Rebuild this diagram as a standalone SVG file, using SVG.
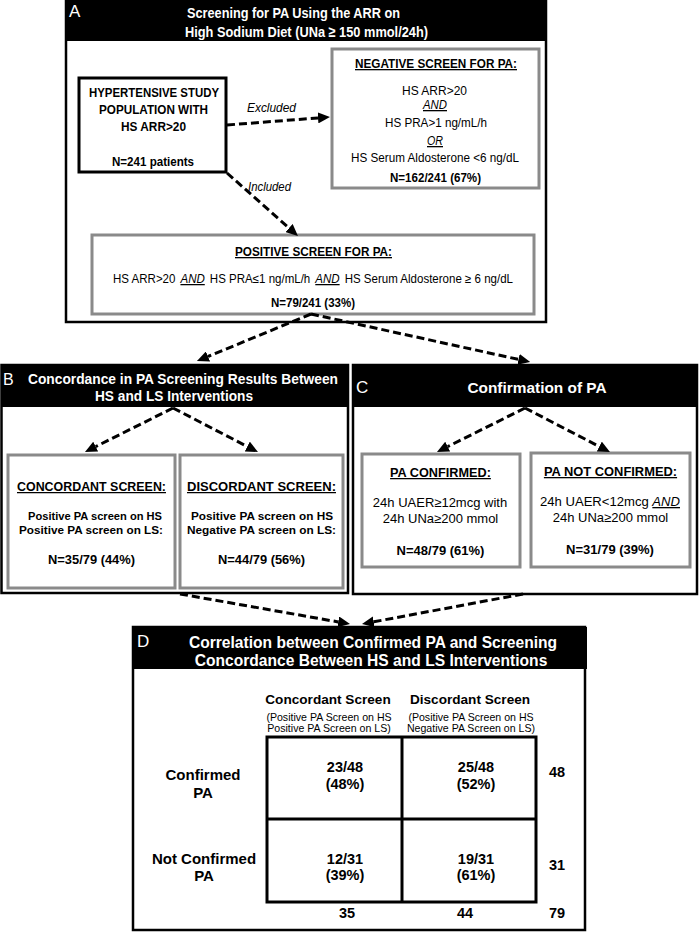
<svg xmlns="http://www.w3.org/2000/svg" width="700" height="932" viewBox="0 0 700 932">
<defs>
<style>
.panel{fill:#fff;stroke:#000;stroke-width:2.5}
.hdr{fill:#000}
.gbox{fill:#fff;stroke:#8a8a8a;stroke-width:3}
.kbox{fill:#fff;stroke:#000;stroke-width:3}
.grid{fill:none;stroke:#000;stroke-width:3}
text{font-family:"Liberation Sans",Arial,sans-serif;fill:#000}
.b{font-weight:bold}
.w{fill:#fff}
.c{text-anchor:middle}
.u{text-decoration:underline}
.i{font-style:italic}
.conn{fill:none;stroke:#000;stroke-width:3;stroke-dasharray:8 4}
</style>
<marker id="ah" markerUnits="userSpaceOnUse" markerWidth="12" markerHeight="11" refX="0" refY="5.5" orient="auto">
<path d="M0,0 L12,5.5 L0,11 z" fill="#000"/>
</marker>
</defs>
<rect width="700" height="932" fill="#fff"/>

<g id="panelA">
<rect class="panel" x="66" y="0" width="480" height="322"/>
<rect class="hdr" x="66" y="0" width="480" height="41"/>
<text class="w" x="69" y="17" font-size="17">A</text>
<text class="w b" x="187" y="18" font-size="15.5" textLength="213" lengthAdjust="spacingAndGlyphs">Screening for PA Using the ARR on</text>
<text class="w b" x="185" y="36.5" font-size="15.5" textLength="243" lengthAdjust="spacingAndGlyphs">High Sodium Diet (UNa ≥ 150 mmol/24h)</text>
</g>

<g id="population">
<rect class="kbox" x="79" y="78" width="147" height="94"/>
<text class="b c" x="154" y="97" font-size="13.5" textLength="130" lengthAdjust="spacingAndGlyphs">HYPERTENSIVE STUDY</text>
<text class="b c" x="153.5" y="114" font-size="13.5" textLength="109" lengthAdjust="spacingAndGlyphs">POPULATION WITH</text>
<text class="b c" x="153.5" y="131" font-size="13.5" textLength="65" lengthAdjust="spacingAndGlyphs">HS ARR&gt;20</text>
<text class="b c" x="153" y="166" font-size="13.5" textLength="82" lengthAdjust="spacingAndGlyphs">N=241 patients</text>
</g>

<g id="negative">
<rect class="gbox" x="332" y="49" width="207" height="139"/>
<text class="b c u" x="436" y="68" font-size="13" textLength="162" lengthAdjust="spacingAndGlyphs">NEGATIVE SCREEN FOR PA:</text>
<text class="c" x="434.5" y="95" font-size="13" textLength="65" lengthAdjust="spacingAndGlyphs">HS ARR&gt;20</text>
<text class="c i u" x="435" y="109" font-size="13" textLength="24" lengthAdjust="spacingAndGlyphs">AND</text>
<text class="c" x="436" y="127" font-size="13" textLength="102" lengthAdjust="spacingAndGlyphs">HS PRA&gt;1 ng/mL/h</text>
<text class="c i u" x="435" y="145" font-size="13" textLength="16" lengthAdjust="spacingAndGlyphs">OR</text>
<text class="c" x="435" y="162" font-size="13" textLength="168" lengthAdjust="spacingAndGlyphs">HS Serum Aldosterone &lt;6 ng/dL</text>
<text class="b c" x="435.5" y="182" font-size="13" textLength="91" lengthAdjust="spacingAndGlyphs">N=162/241 (67%)</text>
</g>

<g id="positive">
<rect class="gbox" x="92" y="235" width="442" height="79"/>
<text class="b c u" x="313.5" y="256" font-size="13" textLength="157" lengthAdjust="spacingAndGlyphs">POSITIVE SCREEN FOR PA:</text>
<text x="113" y="283" font-size="12.6" textLength="400" lengthAdjust="spacingAndGlyphs">HS ARR&gt;20 <tspan class="i u" dx="2">AND</tspan><tspan dx="2"> HS PRA≤1 ng/mL/h </tspan><tspan class="i u" dx="2">AND</tspan><tspan dx="2"> HS Serum Aldosterone ≥ 6 ng/dL</tspan></text>
<text class="b c" x="313" y="307" font-size="13" textLength="84" lengthAdjust="spacingAndGlyphs">N=79/241 (33%)</text>
</g>

<g id="panelB">
<rect class="panel" x="1.5" y="365" width="346.5" height="228"/>
<rect class="hdr" x="1.5" y="365" width="346.5" height="42"/>
<text class="w" x="3" y="384.5" font-size="16">B</text>
<text class="w b" x="28" y="384" font-size="14" textLength="310" lengthAdjust="spacingAndGlyphs">Concordance in PA Screening Results Between</text>
<text class="w b c" x="174" y="401" font-size="14" textLength="158" lengthAdjust="spacingAndGlyphs">HS and LS Interventions</text>
</g>

<g id="concordant">
<rect class="gbox" x="8" y="455" width="167" height="133"/>
<text class="b c u" x="91.5" y="491" font-size="12.5" textLength="149" lengthAdjust="spacingAndGlyphs">CONCORDANT SCREEN:</text>
<text class="b c" x="95" y="520" font-size="11.5" textLength="134" lengthAdjust="spacingAndGlyphs">Positive PA screen on HS</text>
<text class="b c" x="91" y="534" font-size="11.5" textLength="144" lengthAdjust="spacingAndGlyphs">Positive PA screen on LS:</text>
<text class="b c" x="91.5" y="564" font-size="13" textLength="87" lengthAdjust="spacingAndGlyphs">N=35/79 (44%)</text>
</g>

<g id="discordant">
<rect class="gbox" x="180" y="455" width="163" height="133"/>
<text class="b c u" x="261.5" y="491" font-size="12.5" textLength="149" lengthAdjust="spacingAndGlyphs">DISCORDANT SCREEN:</text>
<text class="b c" x="262" y="520" font-size="11.5" textLength="142" lengthAdjust="spacingAndGlyphs">Positive PA screen on HS</text>
<text class="b c" x="261.5" y="534" font-size="11.5" textLength="149" lengthAdjust="spacingAndGlyphs">Negative PA screen on LS:</text>
<text class="b c" x="261.5" y="564" font-size="13" textLength="87" lengthAdjust="spacingAndGlyphs">N=44/79 (56%)</text>
</g>

<g id="panelC">
<rect class="panel" x="353" y="365" width="344" height="229"/>
<rect class="hdr" x="353" y="365" width="344" height="42"/>
<text class="w" x="356" y="393" font-size="17">C</text>
<text class="w b c" x="537" y="393" font-size="15.4">Confirmation of PA</text>
</g>

<g id="confirmed">
<rect class="gbox" x="362" y="454" width="158" height="113"/>
<text class="b c u" x="440.5" y="477" font-size="12.7">PA CONFIRMED:</text>
<text class="c" x="440" y="507" font-size="13">24h UAER≥12mcg with</text>
<text class="c" x="440.5" y="523" font-size="13">24h UNa≥200 mmol</text>
<text class="b c" x="440.5" y="555" font-size="13">N=48/79 (61%)</text>
</g>

<g id="notconfirmed">
<rect class="gbox" x="531" y="453" width="159" height="114"/>
<text class="b c u" x="610.5" y="476" font-size="12.9">PA NOT CONFIRMED:</text>
<text x="540" y="506" font-size="13" textLength="140" lengthAdjust="spacingAndGlyphs">24h UAER&lt;12mcg <tspan class="i u">AND</tspan></text>
<text class="c" x="610.5" y="522" font-size="13">24h UNa≥200 mmol</text>
<text class="b c" x="610" y="554" font-size="13">N=31/79 (39%)</text>
</g>

<g id="panelD">
<rect class="panel" x="133" y="627" width="452" height="303"/>
<rect class="hdr" x="133" y="627" width="454" height="42"/>
<text class="w" x="137" y="647" font-size="17">D</text>
<text class="w b c" x="373" y="648" font-size="15.6">Correlation between Confirmed PA and Screening</text>
<text class="w b c" x="371" y="666" font-size="15.6">Concordance Between HS and LS Interventions</text>
</g>

<g id="tableD">
<text class="b c" x="328" y="704" font-size="13.6">Concordant Screen</text>
<text class="c" x="329" y="721" font-size="10.6">(Positive PA Screen on HS</text>
<text class="c" x="329" y="732" font-size="10.6">Positive PA Screen on LS)</text>
<text class="b c" x="470" y="704" font-size="13.6">Discordant Screen</text>
<text class="c" x="471" y="721" font-size="10.6">(Positive PA Screen on HS</text>
<text class="c" x="471" y="732" font-size="10.6">Negative PA Screen on LS)</text>
<rect class="grid" x="267" y="737" width="269" height="165"/>
<line class="grid" x1="402" y1="737" x2="402" y2="902"/>
<line class="grid" x1="267" y1="819" x2="536" y2="819"/>
<text class="b c" x="203" y="780" font-size="15">Confirmed</text>
<text class="b c" x="203" y="798" font-size="15">PA</text>
<text class="b c" x="204" y="864" font-size="15">Not Confirmed</text>
<text class="b c" x="204" y="881" font-size="15">PA</text>
<text class="b c" x="345" y="772" font-size="14.5">23/48</text>
<text class="b c" x="345" y="789" font-size="14.5">(48%)</text>
<text class="b c" x="476" y="772" font-size="14.5">25/48</text>
<text class="b c" x="476" y="789" font-size="14.5">(52%)</text>
<text class="b c" x="345" y="864" font-size="14.5">12/31</text>
<text class="b c" x="345" y="880" font-size="14.5">(39%)</text>
<text class="b c" x="476" y="864" font-size="14.5">19/31</text>
<text class="b c" x="476" y="880" font-size="14.5">(61%)</text>
<text class="b c" x="557" y="777" font-size="14.5">48</text>
<text class="b c" x="557" y="870" font-size="14.5">31</text>
<text class="b c" x="347" y="918" font-size="14.5">35</text>
<text class="b c" x="465" y="918" font-size="14.5">44</text>
<text class="b c" x="557" y="918" font-size="14.5">79</text>
</g>

<g id="connectors">
<line class="conn" x1="227" y1="125" x2="318" y2="117.9" marker-end="url(#ah)"/>
<text class="i" x="247" y="112" font-size="13" textLength="49" lengthAdjust="spacingAndGlyphs">Excluded</text>
<line class="conn" x1="227" y1="173" x2="289" y2="228" marker-end="url(#ah)"/>
<text class="i" x="248" y="191" font-size="13" textLength="43" lengthAdjust="spacingAndGlyphs">Included</text>
<line class="conn" x1="311" y1="314" x2="208" y2="356.5" marker-end="url(#ah)"/>
<line class="conn" x1="311" y1="314" x2="518.5" y2="359.4" marker-end="url(#ah)"/>
<line class="conn" x1="173" y1="408" x2="95.7" y2="446.6" marker-end="url(#ah)"/>
<line class="conn" x1="173" y1="408" x2="247.3" y2="446.5" marker-end="url(#ah)"/>
<line class="conn" x1="525" y1="408" x2="447.7" y2="446.6" marker-end="url(#ah)"/>
<line class="conn" x1="525" y1="408" x2="599.3" y2="446.5" marker-end="url(#ah)"/>
<line class="conn" x1="180" y1="594" x2="338.2" y2="621.9" marker-end="url(#ah)"/>
<line class="conn" x1="523" y1="594" x2="373.8" y2="621.8" marker-end="url(#ah)"/>
</g>
</svg>
